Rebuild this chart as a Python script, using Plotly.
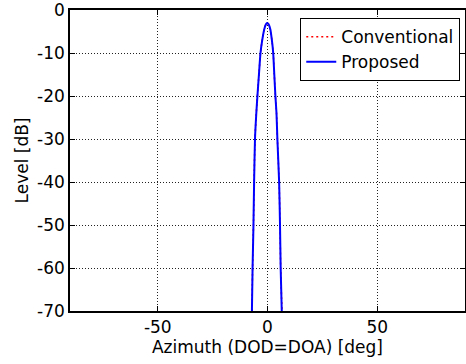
import plotly.graph_objects as go

# Azimuth (deg) and beam level (dB)
azimuth_prop = [-7.1, -6.8, -6.4, -6.1, -5.7, -5.1, -4.6, -3.9, -3.2, -2.4, -1.5, -0.7, -0.2,
                0.5, 1.3, 2.0, 2.6, 3.1, 3.6, 4.1, 4.5, 5.3, 5.7, 6.0, 6.5]
level_prop = [-70, -60, -50, -40, -30, -24, -20, -15, -10, -7, -4.5, -3.3, -3.0,
              -3.3, -4.5, -7, -10, -15, -20, -24, -30, -40, -50, -60, -70]

azimuth_conv = [-7.1, -6.8, -6.4, -6.1, -5.7, -5.1, -4.6, -3.9, -3.2, -2.4, -1.5, -0.7, -0.2,
                0.5, 1.3, 2.0, 2.6, 3.1, 3.6, 4.1, 4.5, 5.3, 5.7, 6.0, 6.6]
level_conv = [-70, -60, -50, -40, -30, -24, -20, -15, -10, -7, -4.5, -3.3, -3.0,
              -3.3, -4.5, -7, -10, -15, -20, -24, -30, -40, -50, -60, -70]

x_ticks = [-50, 0, 50]
y_ticks = [-70, -60, -50, -40, -30, -20, -10, 0]

FONT = "DejaVu Sans"

fig = go.Figure()
fig.add_trace(go.Scatter(x=azimuth_conv, y=level_conv, mode="lines", name="Conventional",
                         line=dict(color="red", width=1.5, dash="2px,3px", shape="spline", smoothing=0.6)))
fig.add_trace(go.Scatter(x=azimuth_prop, y=level_prop, mode="lines", name="Proposed",
                         line=dict(color="blue", width=2, shape="spline", smoothing=0.6)))

axis_common = dict(showline=True, linecolor="black", linewidth=1.5, mirror="ticks",
                   ticks="inside", ticklen=5, tickcolor="black", tickwidth=1,
                   showgrid=True, gridcolor="#222", gridwidth=1, griddash="1px,2px",
                   zeroline=False, tickfont=dict(family=FONT, size=17, color="black"))

fig.update_xaxes(range=[-90, 90], tickvals=x_ticks, ticktext=[str(v) for v in x_ticks],
                 title=dict(text="Azimuth (DOD=DOA) [deg]", font=dict(family=FONT, size=17, color="black"),
                            standoff=2),
                 **axis_common)
fig.update_yaxes(range=[-70, 0.02], tickvals=y_ticks, ticktext=[str(v) for v in y_ticks],
                 title=dict(text="Level [dB]", font=dict(family=FONT, size=17, color="black"),
                            standoff=4),
                 **axis_common)

fig.update_layout(
    width=466, height=364,
    margin=dict(l=70, r=1, t=10, b=53, autoexpand=False),
    paper_bgcolor="white", plot_bgcolor="white",
    showlegend=True,
    legend=dict(x=0.988, y=0.973, xanchor="right", yanchor="top",
                bgcolor="white", bordercolor="black", borderwidth=1,
                font=dict(family=FONT, size=17, color="black")),
)

fig.write_html("out.html")
